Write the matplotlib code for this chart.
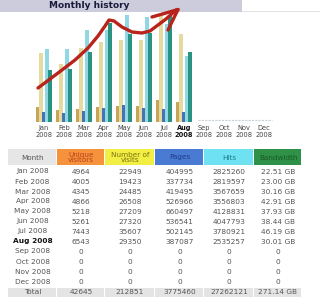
import matplotlib.pyplot as plt
import matplotlib.patches as mpatches
import numpy as np

months = ["Jan", "Feb", "Mar", "Apr", "May", "Jun", "Jul", "Aug", "Sep", "Oct", "Nov", "Dec"]
year = "2008"
visitors = [4964, 4005, 4345, 4866, 5218, 5261, 7443, 6543, 0, 0, 0, 0]
visits = [22949, 19423, 24485, 26508, 27209, 27320, 35607, 29350, 0, 0, 0, 0]
pages = [404995, 337734, 419495, 526966, 660497, 536541, 502145, 387087, 0, 0, 0, 0]
hits = [2825260, 2819597, 3567659, 3556803, 4128831, 4047793, 3780921, 2535257, 0, 0, 0, 0]
bandwidth = [22.51, 23.00, 30.16, 42.91, 37.93, 38.44, 46.19, 30.01, 0, 0, 0, 0]
total_visitors = 42645
total_visits = 212851
total_pages = 3775460
total_hits = 27262121
total_bw = "271.14 GB"
current = 7  # Aug

headers = ["Month", "Unique\nvisitors", "Number of\nvisits", "Pages", "Hits", "Bandwidth"]
head_bg = ["#e6e6e6", "#f6913c", "#f2ee44", "#4a7bd2", "#6ee2f2", "#2f9148"]
head_fg = ["#555555", "#b8401a", "#7a7410", "#1c3a8a", "#1a7a8a", "#1a5a24"]
bar_colors = ["#c9a457", "#e3dba0", "#4a73b4", "#8fd8e4", "#2a9282"]

fig = plt.figure(figsize=(3.2, 3.01), dpi=100)
fig.patch.set_facecolor("white")

# --- bar chart (each pair scaled like awstats) ---
ax = fig.add_axes([0, 179 / 301, 1, 107 / 301])
x = np.arange(12)
vmax = max(visits)
hmax = max(hits)
bmax = max(bandwidth)
series = [np.array(visitors) / vmax, np.array(visits) / vmax,
          np.array(pages) / hmax, np.array(hits) / hmax,
          np.array(bandwidth) / bmax]
offsets = [-6.0, -3.0, 0.0, 3.0, 6.0]
for s, off, c in zip(series, offsets, bar_colors):
    ax.bar(x + off / 20, s, width=3.4 / 20, color=c, edgecolor="none")
ax.plot([7.7, 11.4], [0.02, 0.02], color="#c8d0d8", lw=0.8, ls=(0, (2, 1)))
ax.set_xlim(-2.2, 13.8)
ax.set_ylim(0, 1)
ax.set_xticks(x)
ax.set_xticklabels([m + "\n" + year for m in months], fontsize=4.8,
                   color="#444444", linespacing=1.05)
ax.get_xticklabels()[current].set_fontweight("bold")
ax.get_xticklabels()[current].set_color("#111111")
ax.tick_params(axis="x", length=0, pad=2.5)
ax.set_yticks([])
for sp in ax.spines.values():
    sp.set_visible(False)
ax.patch.set_visible(False)

# --- overlay: header, table, hand-drawn arrow ---
ov = fig.add_axes([0, 0, 1, 1], zorder=3)
ov.set_xlim(0, 320)
ov.set_ylim(301, 0)
ov.axis("off")
ov.patch.set_visible(False)

ov.add_patch(mpatches.Rectangle((0, 0), 242, 11.5, color="#ccccdd", lw=0))
ov.plot([242, 320], [11, 11], color="#dddddd", lw=0.6)
ov.text(89, 5.8, "Monthly history", ha="center", va="center", fontsize=6.5,
        fontweight="bold", color="#1a1a3a")

col_x = [8, 57, 105, 155, 204, 254, 302]
for i, (h, bg, fg) in enumerate(zip(headers, head_bg, head_fg)):
    ov.add_patch(mpatches.Rectangle((col_x[i], 149), col_x[i + 1] - col_x[i] - 1, 16,
                                    color=bg, lw=0))
    ov.text((col_x[i] + col_x[i + 1]) / 2, 157.5, h, ha="center", va="center",
            fontsize=5.2, color=fg, linespacing=0.95)

centers = [(col_x[i] + col_x[i + 1]) / 2 for i in range(6)]
row_y0 = 171.5
step = 10.0
for r in range(12):
    y = row_y0 + r * step
    bw = "%.2f GB" % bandwidth[r] if bandwidth[r] else "0"
    cells = [months[r] + " " + year, visitors[r], visits[r], pages[r], hits[r], bw]
    for c, val in enumerate(cells):
        bold = (r == current and c == 0)
        ov.text(centers[c], y, str(val), ha="center", va="center", fontsize=5.3,
                color="#111111" if bold else "#555555",
                fontweight="bold" if bold else "normal")

ty = row_y0 + 12 * step + 0.5
tot = ["Total", total_visitors, total_visits, total_pages, total_hits, total_bw]
for c, val in enumerate(tot):
    ov.add_patch(mpatches.Rectangle((col_x[c], ty - 4.5), col_x[c + 1] - col_x[c] - 1.5, 9,
                                    color="#e4e4e4", lw=0))
    ov.text(centers[c], ty, str(val), ha="center", va="center", fontsize=5.3,
            color="#555555")

# red hand-drawn trend arrow
ax_x = [38, 50, 62, 75, 88, 98, 105, 109, 114, 122, 132, 142, 150, 158, 166, 176]
ax_y = [88, 79, 70, 60, 48, 36, 26, 20, 21, 27, 32, 33, 31, 25, 19, 10]
ov.plot(ax_x, ax_y, color="#b8231c", lw=2.4, solid_capstyle="round",
        solid_joinstyle="round")
ov.plot([152, 178], [17, 9.5], color="#b8231c", lw=2.4, solid_capstyle="round")
ov.plot([168, 178], [30, 9.5], color="#b8231c", lw=2.4, solid_capstyle="round")

fig.savefig("out.png", dpi=100)
